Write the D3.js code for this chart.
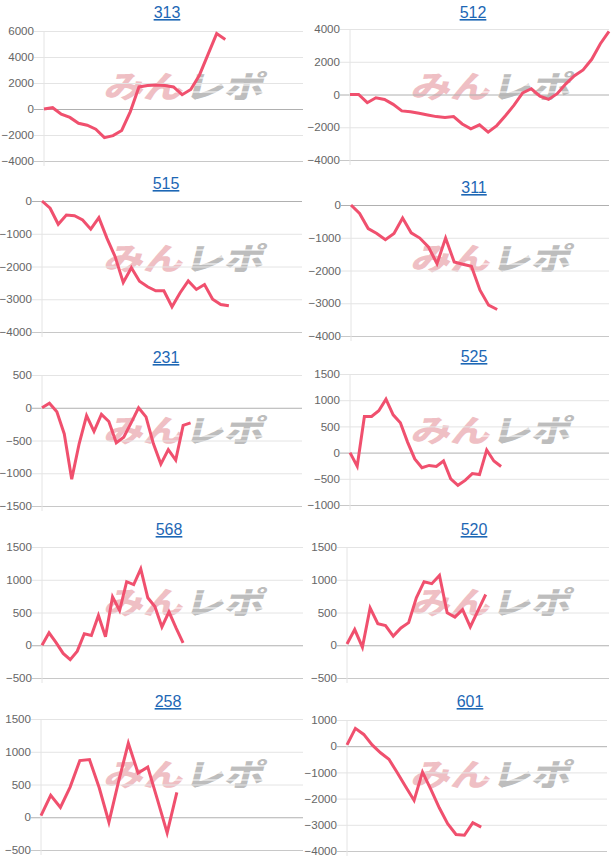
<!DOCTYPE html>
<html><head><meta charset="utf-8">
<script src="https://cdn.jsdelivr.net/npm/d3@7"></script>
<style>body{margin:0;background:#fff}</style>
</head><body><svg id="c" width="614" height="860"></svg>
<script>
// ---- data ----
const titles = ["313","512","515","311","231","525","568","520","258","601"];
const s313 = [0,100,-400,-650,-1100,-1250,-1550,-2200,-2050,-1650,-200,1700,1800,1850,1800,1700,1100,1500,2600,4200,5800,5350];
const s512 = [0,0,-500,-200,-300,-600,-1000,-1050,-1150,-1250,-1350,-1400,-1350,-1800,-2100,-1850,-2300,-1900,-1300,-650,100,350,-100,-300,50,650,1150,1500,2150,3100,3850];
const s515 = [0,-220,-710,-430,-450,-580,-860,-510,-1140,-1700,-2490,-2040,-2450,-2620,-2740,-2740,-3230,-2800,-2440,-2700,-2550,-3000,-3160,-3200];
const s311 = [0,-260,-720,-870,-1060,-870,-400,-850,-1010,-1280,-1790,-1010,-1740,-1810,-1870,-2600,-3060,-3190];
const s231 = [0,70,-60,-400,-1090,-550,-120,-360,-100,-210,-535,-450,-230,0,-140,-550,-860,-640,-800,-270,-230];
const s525 = [0,-260,690,690,800,1020,720,570,200,-120,-290,-245,-265,-160,-500,-625,-530,-400,-420,50,-160,-265];
const s568 = [0,190,40,-125,-220,-90,175,150,455,130,740,530,970,925,1165,725,590,280,510,265,35];
const s520 = [20,240,-30,570,330,300,140,265,345,725,970,940,1065,495,430,545,280,530,775];
const s258 = [25,335,150,460,865,880,450,-75,550,1130,675,765,270,-240,380];
const s601 = [50,680,450,50,-250,-500,-1010,-1550,-2070,-990,-1650,-2350,-2960,-3370,-3400,-2920,-3090];
const seriesList = [s313,s512,s515,s311,s231,s525,s568,s520,s258,s601];
const yTicks = [
  [6000,4000,2000,0,-2000,-4000],
  [4000,2000,0,-2000,-4000],
  [0,-1000,-2000,-3000,-4000],
  [0,-1000,-2000,-3000,-4000],
  [500,0,-500,-1000,-1500],
  [1500,1000,500,0,-500,-1000],
  [1500,1000,500,0,-500],
  [1500,1000,500,0,-500],
  [1500,1000,500,0,-500],
  [1000,0,-1000,-2000,-3000,-4000]
];
const xLen = [30,30,32,30,35,36,37,34,27,31];

// ---- layout ----
const rects = [
  {l:44,r:303,t:31,b:161},{l:350,r:609,t:29,b:160},
  {l:42,r:302,t:201,b:332},{l:351,r:609,t:205,b:336},
  {l:42,r:302,t:375,b:506},{l:350,r:609,t:374,b:505},
  {l:42,r:303,t:547,b:678},{l:347,r:609,t:547,b:678},
  {l:41,r:303,t:719,b:850},{l:347,r:607,t:720,b:851}
];
const titlePos = [[167,12],[473,12],[166,183],[474,187],[166,357],[474,356],[169,529],[474,529],[168,701],[470,701]];

const svg = d3.select("#c");
rects.forEach((R,i)=>{
  const g = svg.append("g");
  const vals = seriesList[i];
  const tk = yTicks[i];
  const x = d3.scaleLinear().domain([0,xLen[i]]).range([R.l,R.r]);
  const y = d3.scaleLinear().domain(d3.extent(tk)).range([R.b,R.t]);

  // watermark
  const col = i%2, row = Math.floor(i/2);
  const ox = col*307+103, oy = row*172+98;
  const wm = g.append("g").attr("transform",`translate(${ox},${oy}) skewX(-14) scale(1.28,1)`);
  wm.append("text").text("みん").attr("x",0).attr("y",0)
    .attr("font-family","'Noto Sans CJK JP'").attr("font-weight",900).attr("font-size",31)
    .attr("fill","#efbfc4");
  wm.append("text").text("レポ").attr("x",63).attr("y",0)
    .attr("font-family","'Noto Sans CJK JP'").attr("font-weight",900).attr("font-size",31)
    .attr("fill","#bdbdbd");
  // speed-line stripes through the logo
  [-20,-13,-6].forEach(dy=>{
    g.append("line").attr("x1",ox+70).attr("x2",ox+165).attr("y1",oy+dy).attr("y2",oy+dy)
      .attr("stroke","#fff").attr("stroke-width",1.2);
  });

  // y axis with gridlines
  const ag = g.append("g").attr("transform",`translate(${R.l-10},0)`)
    .call(d3.axisLeft(y).tickValues(tk).tickSize(-(R.r-R.l+10)).tickPadding(0).tickFormat(d3.format("d")));
  ag.select(".domain").remove();
  ag.selectAll(".tick line").attr("stroke",d=> d===0 ? "#b0b0b0" : (d===d3.min(tk) ? "#c8c8c8" : "#e4e4e4"));
  ag.selectAll(".tick text").attr("fill","#666").attr("font-size",11.6)
    .attr("font-family","'Liberation Sans', Arial, sans-serif");
  // left border
  g.append("line").attr("x1",R.l).attr("x2",R.l).attr("y1",R.t).attr("y2",R.b+5)
    .attr("stroke","#e4e4e4");

  // line
  g.append("path").datum(vals)
    .attr("d",d3.line().x((d,j)=>x(j)).y(d=>y(d)))
    .attr("fill","none").attr("stroke","#f0506e").attr("stroke-width",3);

  // title
  g.append("text").text(titles[i]).attr("x",titlePos[i][0]).attr("y",titlePos[i][1]+6)
    .attr("text-anchor","middle").attr("font-size",16)
    .attr("font-family","'Liberation Sans', Arial, sans-serif")
    .attr("fill","#1d67b5").attr("text-decoration","underline");
});
</script></body></html>
